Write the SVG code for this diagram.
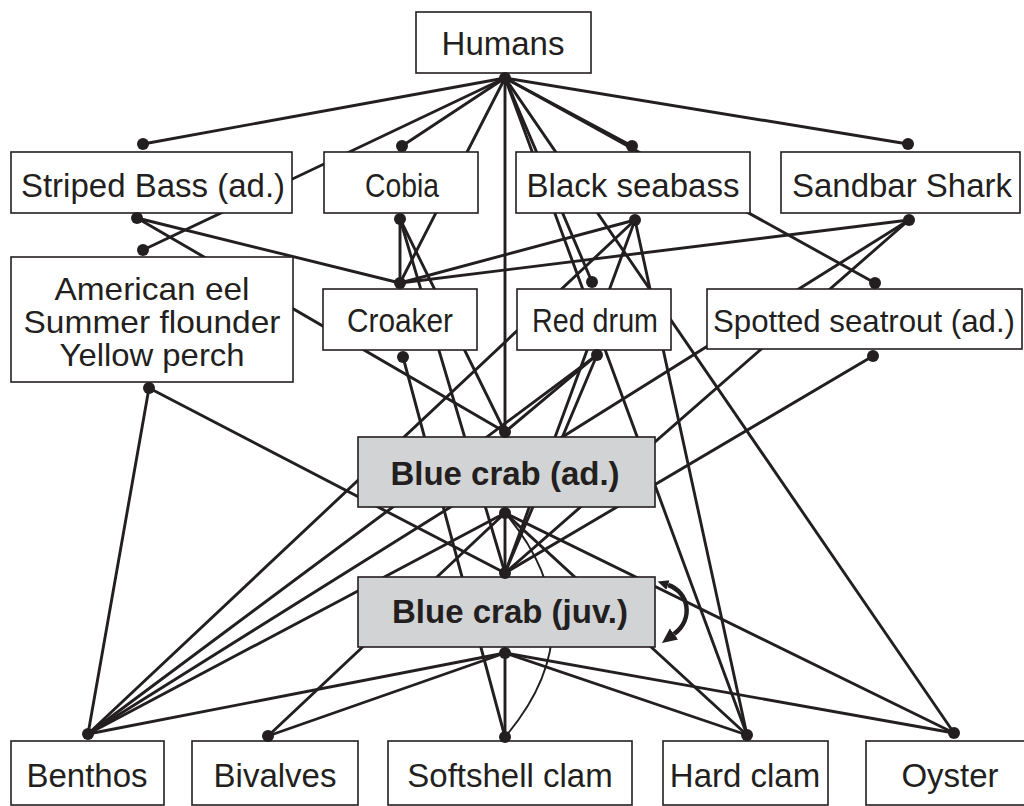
<svg xmlns="http://www.w3.org/2000/svg" width="1024" height="806" viewBox="0 0 1024 806">
<style>
.ln{stroke:#231f20;stroke-width:2.9;fill:none;stroke-linecap:round}
.thin{stroke:#231f20;stroke-width:1.9;fill:none}
.box{fill:#ffffff;stroke:#231f20;stroke-width:1.6}
.crab{fill:#d1d3d4;stroke:#231f20;stroke-width:1.6}
.dot{fill:#231f20}
text{font-family:"Liberation Sans",Arial,sans-serif;font-size:33px;fill:#231f20;text-anchor:middle}
.b{font-weight:bold}
.stack{font-size:32px}
.st{font-size:31.5px}
</style>
<defs>
<marker id="ahEnd" markerUnits="userSpaceOnUse" viewBox="0 -8 16 16" refX="0" refY="0" markerWidth="16" markerHeight="16" orient="auto">
<path d="M0,-7 L15,0 L0,7 Z" fill="#231f20"/>
</marker>
<marker id="ahStart" markerUnits="userSpaceOnUse" viewBox="0 -8 16 16" refX="0" refY="0" markerWidth="16" markerHeight="16" orient="auto-start-reverse">
<path d="M0,-5 L11,0 L0,5 Z" fill="#231f20"/>
</marker>
</defs>
<rect width="1024" height="806" fill="#ffffff"/>
<g id="connectors">
<!-- Humans -->
<line class="ln" x1="505" y1="78" x2="143" y2="144"/>
<line class="ln" x1="505" y1="78" x2="143" y2="250"/>
<line class="ln" x1="505" y1="78" x2="402" y2="146"/>
<line class="ln" x1="505" y1="78" x2="400" y2="283"/>
<line class="ln" x1="505" y1="78" x2="505" y2="432"/>
<line class="ln" x1="505" y1="78" x2="592" y2="282"/>
<line class="ln" x1="505" y1="78" x2="747" y2="735"/>
<line class="ln" x1="505" y1="78" x2="954" y2="733"/>
<line class="ln" x1="505" y1="78" x2="632" y2="146"/>
<line class="ln" x1="505" y1="78" x2="875" y2="283"/>
<line class="ln" x1="505" y1="78" x2="908" y2="144"/>
<!-- Striped bass -->
<line class="ln" x1="137" y1="218" x2="400" y2="283"/>
<line class="ln" x1="137" y1="218" x2="505" y2="432"/>
<!-- Cobia -->
<line class="ln" x1="400" y1="219" x2="400" y2="283"/>
<line class="ln" x1="400" y1="219" x2="505" y2="432"/>
<line class="ln" x1="400" y1="219" x2="505" y2="573"/>
<!-- Black seabass -->
<line class="ln" x1="635" y1="220" x2="400" y2="283"/>
<line class="ln" x1="635" y1="220" x2="88" y2="734"/>
<line class="ln" x1="635" y1="220" x2="505" y2="573"/>
<line class="ln" x1="635" y1="220" x2="747" y2="735"/>
<!-- Sandbar shark -->
<line class="ln" x1="909" y1="220" x2="400" y2="283"/>
<line class="ln" x1="909" y1="220" x2="88" y2="734"/>
<line class="ln" x1="909" y1="220" x2="505" y2="573"/>
<!-- American eel group -->
<line class="ln" x1="149" y1="388" x2="88" y2="734"/>
<line class="ln" x1="149" y1="388" x2="505" y2="573"/>
<!-- Croaker -->
<line class="ln" x1="403" y1="357" x2="505" y2="737"/>
<!-- Red drum -->
<line class="ln" x1="597" y1="355" x2="505" y2="432"/>
<line class="ln" x1="597" y1="355" x2="88" y2="734"/>
<line class="ln" x1="597" y1="355" x2="505" y2="573"/>
<!-- Spotted seatrout -->
<line class="ln" x1="873" y1="356" x2="505" y2="573"/>
<!-- Blue crab adult -->
<line class="ln" x1="505" y1="513" x2="505" y2="573"/>
<line class="ln" x1="505" y1="513" x2="88" y2="734"/>
<line class="ln" x1="505" y1="513" x2="268" y2="736"/>
<line class="ln" x1="505" y1="513" x2="747" y2="735"/>
<line class="ln" x1="505" y1="513" x2="954" y2="733"/>
<path class="thin" d="M505,513 Q600,625 505,737"/>
<!-- Blue crab juvenile -->
<line class="ln" x1="505" y1="653" x2="88" y2="734"/>
<line class="ln" x1="505" y1="653" x2="268" y2="736"/>
<line class="ln" x1="505" y1="653" x2="505" y2="737"/>
<line class="ln" x1="505" y1="653" x2="747" y2="735"/>
<line class="ln" x1="505" y1="653" x2="954" y2="733"/>
<!-- cannibalism loop -->
<path d="M668,585 C689,592 694,619 674,634" fill="none" stroke="#231f20" stroke-width="4.5" marker-start="url(#ahStart)" marker-end="url(#ahEnd)"/>
</g>
<g id="n-humans">
<rect class="box" x="416" y="12" width="175" height="61"/>
<text x="503" y="55">Humans</text>
<circle class="dot" cx="505" cy="78" r="6"/>
</g>
<g id="n-striped-bass">
<rect class="box" x="11" y="152" width="281" height="61"/>
<text x="153" y="197">Striped Bass (ad.)</text>
<circle class="dot" cx="143" cy="144" r="6"/>
<circle class="dot" cx="137" cy="218" r="6"/>
</g>
<g id="n-cobia">
<rect class="box" x="324" y="152" width="154" height="61"/>
<text x="402" y="197" textLength="74" lengthAdjust="spacingAndGlyphs">Cobia</text>
<circle class="dot" cx="402" cy="146" r="6"/>
<circle class="dot" cx="400" cy="219" r="6"/>
</g>
<g id="n-black-seabass">
<rect class="box" x="516" y="152" width="234" height="61"/>
<text x="633" y="197">Black seabass</text>
<circle class="dot" cx="632" cy="146" r="6"/>
<circle class="dot" cx="635" cy="220" r="6"/>
</g>
<g id="n-sandbar-shark">
<rect class="box" x="781" y="152" width="239" height="61"/>
<text x="902" y="197">Sandbar Shark</text>
<circle class="dot" cx="908" cy="144" r="6"/>
<circle class="dot" cx="909" cy="220" r="6"/>
</g>
<g id="n-eel-flounder-perch">
<rect class="box" x="11" y="257" width="282" height="125"/>
<text class="stack" x="152" y="300" textLength="195" lengthAdjust="spacingAndGlyphs">American eel</text>
<text class="stack" x="152" y="333" textLength="257" lengthAdjust="spacingAndGlyphs">Summer flounder</text>
<text class="stack" x="152" y="366" textLength="185" lengthAdjust="spacingAndGlyphs">Yellow perch</text>
<circle class="dot" cx="143" cy="250" r="6"/>
<circle class="dot" cx="149" cy="388" r="6"/>
</g>
<g id="n-croaker">
<rect class="box" x="323" y="289" width="154" height="61"/>
<text x="400" y="332" textLength="106" lengthAdjust="spacingAndGlyphs">Croaker</text>
<circle class="dot" cx="400" cy="283" r="6"/>
<circle class="dot" cx="403" cy="357" r="6"/>
</g>
<g id="n-red-drum">
<rect class="box" x="517" y="289" width="154" height="61"/>
<text x="595" y="332" textLength="126" lengthAdjust="spacingAndGlyphs">Red drum</text>
<circle class="dot" cx="592" cy="282" r="6"/>
<circle class="dot" cx="597" cy="355" r="6"/>
</g>
<g id="n-spotted-seatrout">
<rect class="box" x="707" y="289" width="315" height="60"/>
<text class="st" x="864" y="332" textLength="302" lengthAdjust="spacingAndGlyphs">Spotted seatrout (ad.)</text>
<circle class="dot" cx="875" cy="283" r="6"/>
<circle class="dot" cx="873" cy="356" r="6"/>
</g>
<g id="n-blue-crab-adult">
<rect class="crab" x="358" y="437" width="297" height="70"/>
<text class="b" x="505" y="485">Blue crab (ad.)</text>
<circle class="dot" cx="505" cy="432" r="6"/>
<circle class="dot" cx="505" cy="513" r="6"/>
</g>
<g id="n-blue-crab-juvenile">
<rect class="crab" x="358" y="577" width="297" height="70"/>
<text class="b" x="510" y="623">Blue crab (juv.)</text>
<circle class="dot" cx="505" cy="573" r="6"/>
<circle class="dot" cx="505" cy="653" r="6"/>
</g>
<g id="n-benthos">
<rect class="box" x="11" y="741" width="153" height="64"/>
<text x="87" y="787">Benthos</text>
<circle class="dot" cx="88" cy="734" r="6"/>
</g>
<g id="n-bivalves">
<rect class="box" x="192" y="741" width="166" height="64"/>
<text x="275" y="787">Bivalves</text>
<circle class="dot" cx="268" cy="736" r="6"/>
</g>
<g id="n-softshell-clam">
<rect class="box" x="388" y="741" width="244" height="64"/>
<text x="510" y="787">Softshell clam</text>
<circle class="dot" cx="505" cy="737" r="6"/>
</g>
<g id="n-hard-clam">
<rect class="box" x="663" y="741" width="165" height="64"/>
<text x="745" y="787">Hard clam</text>
<circle class="dot" cx="747" cy="735" r="6"/>
</g>
<g id="n-oyster">
<rect class="box" x="866" y="741" width="170" height="64"/>
<text x="950" y="787">Oyster</text>
<circle class="dot" cx="954" cy="733" r="6"/>
</g>
</svg>
